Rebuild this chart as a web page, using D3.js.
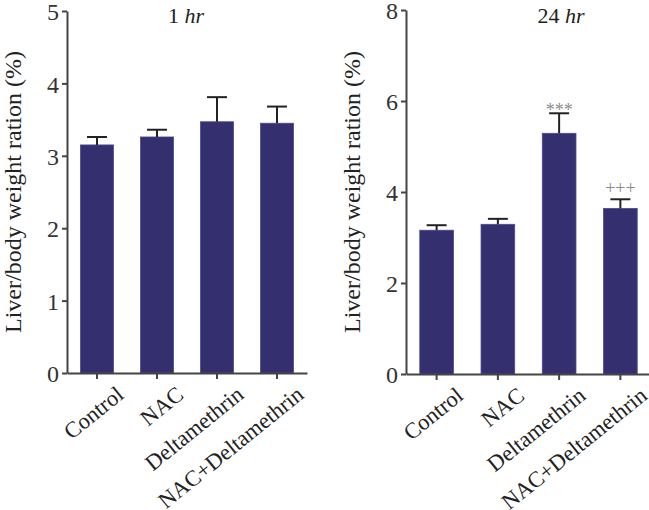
<!DOCTYPE html>
<html>
<head>
<meta charset="utf-8">
<script src="https://cdn.jsdelivr.net/npm/d3@7"></script>
<style>
  body { margin: 0; background: #fff; }
  text { font-family: "Liberation Serif", "Times New Roman", serif; fill: #222; }
</style>
</head>
<body>
<svg id="chart" width="649" height="510"></svg>
<script>
// groups on the x axis (same for both panels)
const groups = ["Control", "NAC", "Deltamethrin", "NAC+Deltamethrin"];

// 1 hr panel
const means1h = [3.15, 3.26, 3.47, 3.45];
const sem1h = [0.11, 0.10, 0.34, 0.23];
const ticks1h = [0, 1, 2, 3, 4, 5];

// 24 hr panel
const means24h = [3.16, 3.29, 5.29, 3.64];
const sem24h = [0.11, 0.12, 0.44, 0.20];
const ticks24h = [0, 2, 4, 6, 8];
const marks24h = ["", "", "***", "+++"];

const BAR = "#34306f";
const AXIS = "#444";

const svg = d3.select("#chart");

function drawPanel(cfg) {
    let g = svg.append("g");

    let x = d3.scaleBand()
        .domain(groups)
        .range([cfg.left, cfg.right])
        .paddingInner(0.45)
        .paddingOuter(0.225);

    let y = d3.scaleLinear()
        .domain([0, cfg.max])
        .range([cfg.bottom, cfg.top]);

    // bars
    g.selectAll("rect.bar")
        .data(cfg.means)
        .enter()
        .append("rect")
        .attr("class", "bar")
        .attr("x", (d, i) => x(groups[i]))
        .attr("width", x.bandwidth())
        .attr("y", d => y(d))
        .attr("height", d => y(0) - y(d))
        .attr("fill", BAR)
        .attr("stroke", "#4b4792")
        .attr("stroke-width", 0.8);

    // error bars (upper half only)
    let cap = 10;
    let eb = g.selectAll("g.err")
        .data(cfg.means)
        .enter()
        .append("g")
        .attr("class", "err")
        .attr("stroke", "#222")
        .attr("stroke-width", 2);

    eb.append("line")
        .attr("x1", (d, i) => x(groups[i]) + x.bandwidth() / 2)
        .attr("x2", (d, i) => x(groups[i]) + x.bandwidth() / 2)
        .attr("y1", d => y(d))
        .attr("y2", (d, i) => y(d + cfg.sem[i]));

    eb.append("line")
        .attr("x1", (d, i) => x(groups[i]) + x.bandwidth() / 2 - cap)
        .attr("x2", (d, i) => x(groups[i]) + x.bandwidth() / 2 + cap)
        .attr("y1", (d, i) => y(d + cfg.sem[i]))
        .attr("y2", (d, i) => y(d + cfg.sem[i]));

    // significance marks
    if (cfg.marks) {
        g.selectAll("text.mark")
            .data(cfg.marks)
            .enter()
            .append("text")
            .attr("class", "mark")
            .attr("x", (d, i) => x(groups[i]) + x.bandwidth() / 2)
            .attr("y", (d, i) => y(cfg.means[i] + cfg.sem[i]) + (d.startsWith("*") ? 3 : -5))
            .attr("text-anchor", "middle")
            .style("fill", "#8a8a8a")
            .style("font-size", "18px")
            .text(d => d);
    }

    // y axis
    let yAxis = g.append("g")
        .attr("transform", `translate(${cfg.left},0)`)
        .call(d3.axisLeft(y).tickValues(cfg.ticks).tickFormat(d3.format("d")).tickSize(5).tickSizeOuter(0).tickPadding(3));

    // x axis
    let xAxis = g.append("g")
        .attr("transform", `translate(0,${cfg.bottom})`)
        .call(d3.axisBottom(x).tickSize(6).tickSizeOuter(0).tickFormat(""));

    [yAxis, xAxis].forEach(a => {
        a.select(".domain").attr("stroke", AXIS).attr("stroke-width", 2);
        a.selectAll(".tick line").attr("stroke", AXIS).attr("stroke-width", 2);
    });
    yAxis.selectAll(".tick text")
        .attr("dy", "0.36em")
        .style("font-family", "Liberation Serif, serif")
        .style("font-size", "24px")
        .style("fill", "#333");

    // rotated category labels
    g.selectAll("text.cat")
        .data(groups)
        .enter()
        .append("text")
        .attr("class", "cat")
        .attr("text-anchor", "end")
        .attr("transform", d => `translate(${x(d) + x.bandwidth() / 2 + 28},${cfg.bottom + 24}) rotate(-39)`)
        .style("font-size", "22.5px")
        .text(d => d);

    // y label
    g.append("text")
        .attr("transform", `translate(${cfg.labelX},${(cfg.top + cfg.bottom) / 2}) rotate(-90)`)
        .attr("text-anchor", "middle")
        .style("font-size", "24px")
        .text("Liver/body weight ration (%)");

    // panel title
    let t = g.append("text")
        .attr("x", cfg.titleX)
        .attr("y", 23)
        .attr("text-anchor", "middle")
        .style("font-size", "22px");
    t.append("tspan").text(cfg.titleNum + " ");
    t.append("tspan").style("font-style", "italic").text("hr");
}

drawPanel({
    left: 67, right: 307, top: 11, bottom: 373, max: 5,
    means: means1h, sem: sem1h, ticks: ticks1h,
    labelX: 21, titleX: 186, titleNum: "1"
});

drawPanel({
    left: 406, right: 651, top: 10, bottom: 374, max: 8,
    means: means24h, sem: sem24h, ticks: ticks24h, marks: marks24h,
    labelX: 360, titleX: 561, titleNum: "24"
});
</script>
</body>
</html>
